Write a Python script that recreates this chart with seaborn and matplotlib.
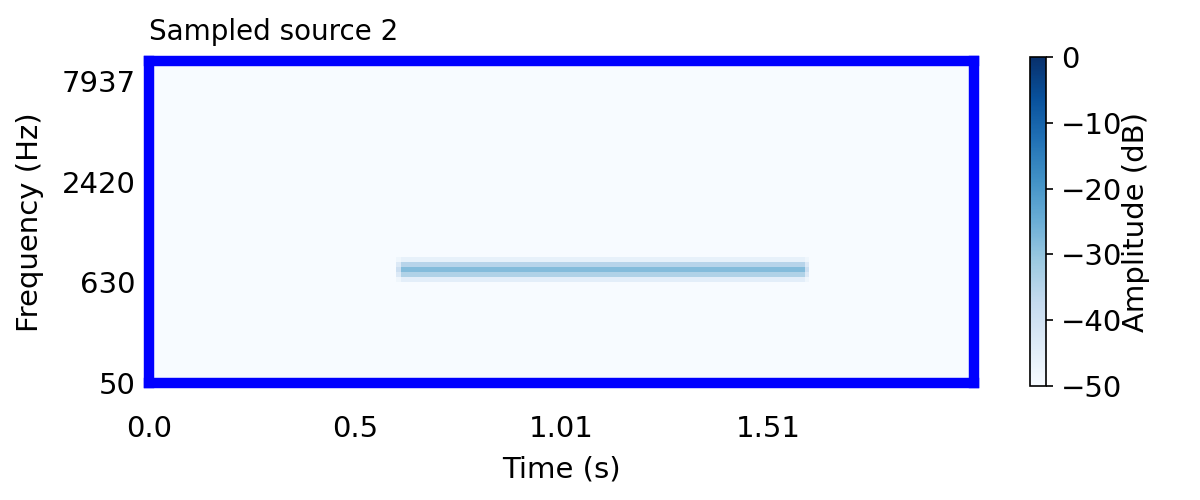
import numpy as np
import pandas as pd
import matplotlib
matplotlib.use("Agg")
import matplotlib.pyplot as plt
import seaborn as sns

# spectrogram grid
n_frames = 200
n_mels = 64
duration = 2.0
floor_db = -50.0

# tone: rows around the tone bin and their levels (dB)
tone_rows = [20, 21, 22, 23, 24]
tone_levels = [-45.0, -34.0, -28.0, -35.0, -46.0]
tone_start = 61   # first full frame
tone_end = 158    # last full frame
edge_levels = [-48.0, -43.0, -39.0, -43.0, -48.0]  # faded first/last frame

# axis labels
time_tick_frames = [0, 50, 100, 150]
freq_tick_rows = [0, 20, 40, 60]
freq_tick_labels = ["50", "630", "2420", "7937"]

spec = np.full((n_mels, n_frames), floor_db)
for r, lvl, elvl in zip(tone_rows, tone_levels, edge_levels):
    spec[r, tone_start:tone_end + 1] = lvl
    spec[r, tone_start - 1] = elvl
    spec[r, tone_end + 1] = elvl

times = np.linspace(0, duration, n_frames)
df = pd.DataFrame(spec, columns=np.round(times, 2))

fig = plt.figure(figsize=(8, 10 / 3), dpi=150)
ax = fig.add_axes([0.124, 0.234, 0.688, 0.644])
cax = fig.add_axes([0.858, 0.228, 0.014, 0.658])

sns.heatmap(df, cmap="Blues", vmin=-50, vmax=0, ax=ax, cbar_ax=cax,
            xticklabels=False, yticklabels=False)
ax.invert_yaxis()

ax.set_xticks(time_tick_frames)
ax.set_xticklabels([str(round(times[i], 2)) for i in time_tick_frames],
                   rotation=0, fontsize=14)
ax.set_yticks(freq_tick_rows)
ax.set_yticklabels(freq_tick_labels, rotation=0, fontsize=14)
ax.tick_params(axis="x", length=0, pad=15.5)
ax.tick_params(axis="y", length=0, pad=6.5)

for side in ["top", "bottom", "left", "right"]:
    ax.spines[side].set_visible(True)
    ax.spines[side].set_color("#0000ff")
    ax.spines[side].set_linewidth(5)

ax.set_xlabel("Time (s)", fontsize=14, labelpad=6)
ax.set_ylabel("Frequency (Hz)", fontsize=14, labelpad=8)
ax.set_title("Sampled source 2", loc="left", fontsize=13.3, pad=10)

cbar = ax.collections[0].colorbar
cbar.set_ticks([-50, -40, -30, -20, -10, 0])
cbar.ax.tick_params(labelsize=14)
cbar.outline.set_edgecolor("black")
cbar.outline.set_linewidth(0.8)
cbar.set_label("Amplitude (dB)", fontsize=14, labelpad=0)

fig.savefig("out.png", dpi=150)
